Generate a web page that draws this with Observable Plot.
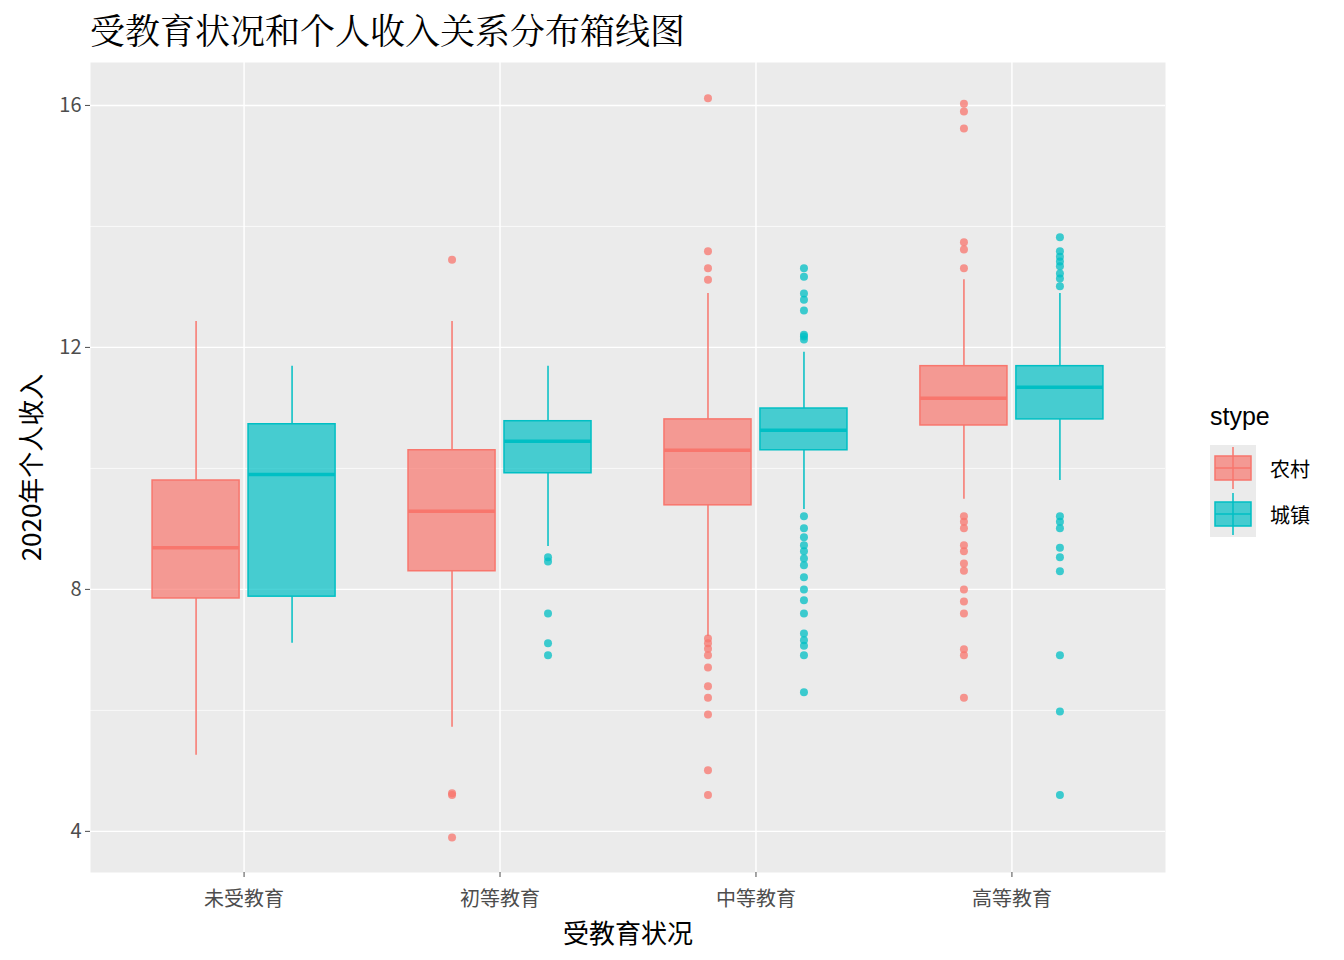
<!DOCTYPE html>
<html><head><meta charset="utf-8">
<script src="https://cdn.jsdelivr.net/npm/d3@7"></script>
<script src="https://cdn.jsdelivr.net/npm/@observablehq/plot@0.6"></script>
<style>
body{margin:0;background:#fff;font-family:"Noto Sans CJK SC",sans-serif;}
#wrap{position:relative;width:1344px;height:960px;}
#title{position:absolute;left:90px;top:4px;font-size:35px;color:#000;font-family:"Noto Serif CJK SC","Noto Sans CJK SC",serif;}
#legend{position:absolute;left:1210px;top:402px;font-size:20px;}
.key{display:flex;align-items:center;height:46px;}
</style></head><body>
<div id="wrap">
<div id="title">受教育状况和个人收入关系分布箱线图</div>
<div id="legend"><div style="font-family:Arial,'Liberation Sans';font-size:25px;margin-bottom:14px">stype</div><div id="keys"></div></div>
</div>
<script>
const education = ["未受教育","初等教育","中等教育","高等教育"];
const stypes = ["农村","城镇"];
const colors = ["#F8766D","#00BFC4"];
// per education: [农村, 城镇]
const whiskerLo = [[5.26,7.11],[5.72,8.71],[7.22,9.32],[9.49,9.80]];
const q1        = [[7.85,7.88],[8.30,9.92],[9.39,10.30],[10.71,10.81]];
const median    = [[8.69,9.90],[9.29,10.45],[10.30,10.63],[11.16,11.34]];
const q3        = [[9.80,10.73],[10.30,10.78],[10.81,10.99],[11.69,11.69]];
const whiskerHi = [[12.43,11.69],[12.43,11.69],[12.89,11.92],[13.12,12.89]];
const outliers = [
  [[],[]],
  [[13.45,4.63,4.60,3.90],[8.53,8.46,7.60,7.11,6.91]],
  [[16.12,13.59,13.31,13.12,7.19,7.11,7.02,6.91,6.71,6.40,6.21,5.93,5.01,4.60],
   [13.31,13.17,12.89,12.79,12.61,12.21,12.18,12.13,9.21,9.01,8.86,8.73,8.63,8.51,8.40,8.20,8.00,7.82,7.60,7.27,7.16,7.07,6.91,6.30]],
  [[16.03,15.90,15.62,13.74,13.62,13.31,9.21,9.12,9.01,8.73,8.63,8.43,8.31,8.00,7.80,7.60,7.01,6.91,6.21],
   [13.82,13.59,13.50,13.42,13.34,13.22,13.14,13.01,9.21,9.12,9.01,8.69,8.53,8.30,6.91,5.98,4.60]]
];

const boxes = [], pts = [];
education.forEach((e, i) => stypes.forEach((s, j) => {
  const cx = i + 1 + (j === 0 ? -0.1875 : 0.1875);
  boxes.push({cx, x1: cx - 0.17, x2: cx + 0.17, s, lo: whiskerLo[i][j], q1: q1[i][j], med: median[i][j], q3: q3[i][j], hi: whiskerHi[i][j]});
  outliers[i][j].forEach(v => pts.push({cx, s, v}));
}));
const color = {domain: stypes, range: colors};

const chart = Plot.plot({
  width: 1344, height: 960,
  marginLeft: 90, marginRight: 179, marginTop: 62, marginBottom: 88,
  x: {domain: [0.4, 4.6]},
  y: {domain: [3.32, 16.71]},
  color,
  style: {fontSize: 20, fontFamily: "'Noto Sans CJK SC',sans-serif"},
  marks: [
    Plot.frame({fill: "#EBEBEB", stroke: null}),
    Plot.ruleY([6, 10, 14], {stroke: "white", strokeWidth: 0.7}),
    Plot.ruleY([4, 8, 12, 16], {stroke: "white", strokeWidth: 1.4}),
    Plot.ruleX([1, 2, 3, 4], {stroke: "white", strokeWidth: 1.4}),
    Plot.ruleX(boxes, {x: "cx", y1: "lo", y2: "q1", stroke: "s", strokeWidth: 1.5}),
    Plot.ruleX(boxes, {x: "cx", y1: "q3", y2: "hi", stroke: "s", strokeWidth: 1.5}),
    Plot.rect(boxes, {x1: "x1", x2: "x2", y1: "q1", y2: "q3", fill: "s", fillOpacity: 0.7, stroke: "s", strokeWidth: 1.5}),
    Plot.ruleY(boxes, {y: "med", x1: "x1", x2: "x2", stroke: "s", strokeWidth: 3.5}),
    Plot.dot(pts, {x: "cx", y: "v", fill: "s", fillOpacity: 0.75, r: 4}),
    Plot.axisY({ticks: [4, 8, 12, 16], tickSize: 5, tickPadding: 4, fontSize: 20, color: "#4d4d4d", label: "2020年个人收入", labelAnchor: "center", labelArrow: "none", labelOffset: 68}),
    Plot.axisX({ticks: [1, 2, 3, 4], tickFormat: d => education[d - 1], tickSize: 5, tickPadding: 14, fontSize: 20, color: "#4d4d4d", label: "受教育状况", labelAnchor: "center", labelArrow: "none", labelOffset: 70})
  ]
});
d3.select(chart).selectAll("[aria-label='y-axis label'] text, [aria-label='x-axis label'] text").style("font-size", "26px").attr("fill", "#000");
document.getElementById("wrap").prepend(chart);
chart.style.position = "absolute"; chart.style.left = "0"; chart.style.top = "0";

stypes.forEach((s, j) => {
  const k = d3.select("#keys").append("div").attr("class", "key");
  const svg = k.append("svg").attr("width", 46).attr("height", 46).style("margin-right", "14px");
  svg.append("rect").attr("width", 46).attr("height", 46).attr("fill", "#EBEBEB");
  svg.append("line").attr("x1", 23).attr("x2", 23).attr("y1", 2).attr("y2", 44).attr("stroke", colors[j]).attr("stroke-width", 1.5);
  svg.append("rect").attr("x", 5).attr("y", 11).attr("width", 36).attr("height", 24).attr("fill", colors[j]).attr("fill-opacity", 0.7).attr("stroke", colors[j]).attr("stroke-width", 1.5);
  svg.append("line").attr("x1", 5).attr("x2", 41).attr("y1", 23).attr("y2", 23).attr("stroke", colors[j]).attr("stroke-width", 1.5);
  k.append("span").text(s);
});
</script>
</body></html>
